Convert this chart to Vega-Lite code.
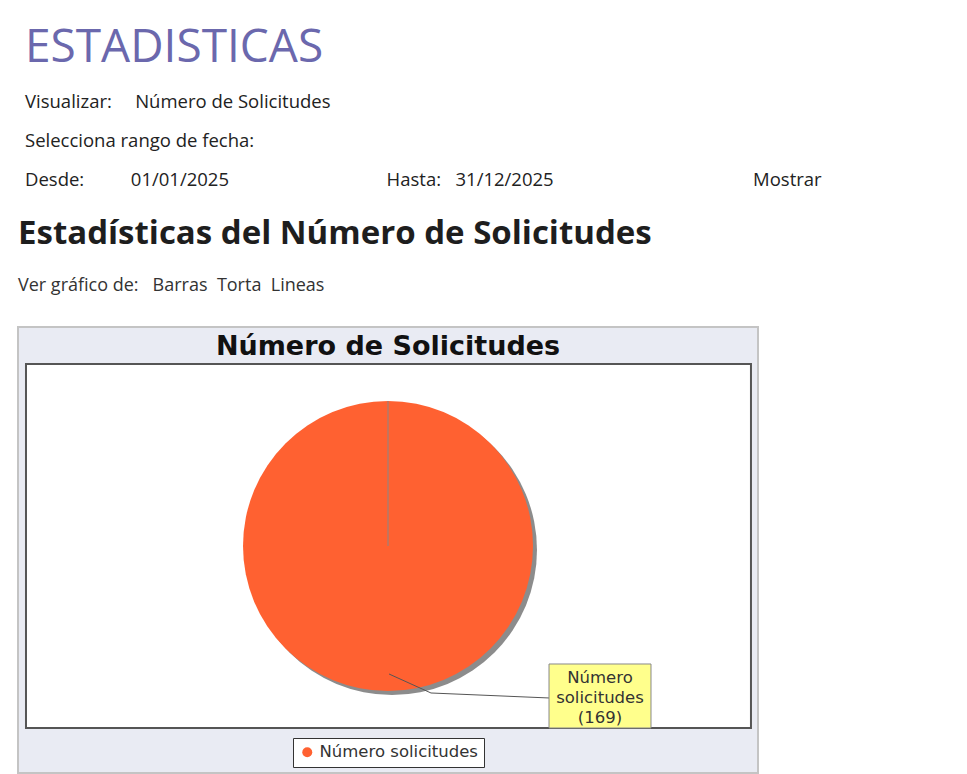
{
  "$schema": "https://vega.github.io/schema/vega-lite/v6.json",
  "background": "white",
  "padding": {"left": 17, "top": 24, "right": 0, "bottom": 2},
  "title": {
    "text": "ESTADISTICAS",
    "subtitle": [
      "Visualizar:\u2003\u00a0Número de Solicitudes",
      "Selecciona rango de fecha:",
      "Desde:\u2003\u2003\u00a0\u00a001/01/2025\u2003\u2003\u2003\u2003\u2003\u2003\u2003\u2003\u00a0\u00a0Hasta:\u00a0\u00a0\u00a031/12/2025\u2003\u2003\u2003\u2003\u2003\u2003\u2003\u2003\u2003\u2003\u00a0\u00a0\u00a0Mostrar"
    ],
    "anchor": "start",
    "dx": 8,
    "font": "Open Sans",
    "fontSize": 46,
    "fontWeight": "normal",
    "color": "#6b68ad",
    "subtitleFont": "Open Sans",
    "subtitleFontSize": 18.5,
    "subtitleColor": "#222222",
    "subtitleLineHeight": 39,
    "subtitlePadding": 21,
    "offset": 27
  },
  "data": {
    "values": [
      {"categoria": "Número solicitudes", "valor": 169, "etiqueta": "Número solicitudes (169)"}
    ]
  },
  "vconcat": [
    {
      "width": 740,
      "height": 446,
      "title": {
        "text": "Estadísticas del Número de Solicitudes",
        "subtitle": "Ver gráfico de:\u00a0\u00a0\u00a0Barras\u00a0\u00a0Torta\u00a0\u00a0Lineas",
        "anchor": "start",
        "font": "Open Sans",
        "fontSize": 33,
        "fontWeight": "bold",
        "color": "#1e1e1e",
        "subtitleFont": "Open Sans",
        "subtitleFontSize": 18,
        "subtitleColor": "#333333",
        "subtitlePadding": 26,
        "offset": 32
      },
      "view": {"fill": "#e9ebf3", "stroke": "#c4c4c4", "strokeWidth": 2},
      "layer": [
        {
          "mark": {"type": "rect", "fill": "white", "stroke": "#555555", "strokeWidth": 2},
          "encoding": {
            "x": {"datum": 1.08, "type": "quantitative", "scale": {"domain": [0, 100], "nice": false, "zero": false}, "axis": null},
            "x2": {"datum": 99.05},
            "y": {"datum": 8.3, "type": "quantitative", "scale": {"domain": [0, 100], "reverse": true, "nice": false, "zero": false}, "axis": null},
            "y2": {"datum": 89.91}
          }
        },
        {
          "mark": {"type": "text", "font": "DejaVu Sans", "fontSize": 27, "fontWeight": "bold", "color": "#111111", "align": "center", "baseline": "middle"},
          "encoding": {
            "x": {"datum": 50, "type": "quantitative"},
            "y": {"datum": 4.4, "type": "quantitative"},
            "text": {"value": "Número de Solicitudes"}
          }
        },
        {
          "mark": {"type": "arc", "outerRadius": 145, "color": "#8c8c8c"},
          "encoding": {
            "theta": {"field": "valor", "type": "quantitative"},
            "x": {"datum": 50.54, "type": "quantitative"},
            "y": {"datum": 50.0, "type": "quantitative"}
          }
        },
        {
          "mark": {"type": "arc", "outerRadius": 145},
          "encoding": {
            "theta": {"field": "valor", "type": "quantitative"},
            "x": {"datum": 50, "type": "quantitative"},
            "y": {"datum": 49.1, "type": "quantitative"},
            "color": {
              "field": "categoria",
              "type": "nominal",
              "scale": {"range": ["#ff6131"]},
              "legend": {
                "orient": "none",
                "legendX": 275,
                "legendY": 411,
                "title": null,
                "direction": "horizontal",
                "strokeColor": "#333333",
                "fillColor": "white",
                "padding": 6,
                "symbolType": "circle",
                "symbolSize": 100,
                "symbolStrokeWidth": 0,
                "labelFont": "DejaVu Sans",
                "labelFontSize": 16.5,
                "labelColor": "#333333"
              }
            }
          }
        },
        {
          "mark": {"type": "rule", "color": "#888888", "strokeWidth": 1},
          "encoding": {
            "x": {"datum": 50, "type": "quantitative"},
            "y": {"datum": 49.1, "type": "quantitative"},
            "y2": {"datum": 16.6}
          }
        },
        {
          "mark": {"type": "rule", "color": "#555555", "strokeWidth": 1},
          "encoding": {
            "x": {"datum": 50.14, "type": "quantitative"},
            "y": {"datum": 77.8, "type": "quantitative"},
            "x2": {"datum": 55.81},
            "y2": {"datum": 82.06}
          }
        },
        {
          "mark": {"type": "rule", "color": "#555555", "strokeWidth": 1},
          "encoding": {
            "x": {"datum": 55.81, "type": "quantitative"},
            "y": {"datum": 82.06, "type": "quantitative"},
            "x2": {"datum": 71.76},
            "y2": {"datum": 83.18}
          }
        },
        {
          "mark": {"type": "rect", "fill": "#ffff8c", "stroke": "#888888", "strokeWidth": 1},
          "encoding": {
            "x": {"datum": 71.76, "type": "quantitative"},
            "x2": {"datum": 85.54},
            "y": {"datum": 75.56, "type": "quantitative"},
            "y2": {"datum": 89.91}
          }
        },
        {
          "mark": {"type": "text", "font": "DejaVu Sans", "fontSize": 16.5, "lineHeight": 20, "lineBreak": " ", "color": "#333333", "align": "center", "baseline": "middle"},
          "encoding": {
            "x": {"datum": 78.65, "type": "quantitative"},
            "y": {"datum": 78.7, "type": "quantitative"},
            "text": {"field": "etiqueta"}
          }
        }
      ]
    }
  ],
  "config": {"axis": {"disable": true}}
}
